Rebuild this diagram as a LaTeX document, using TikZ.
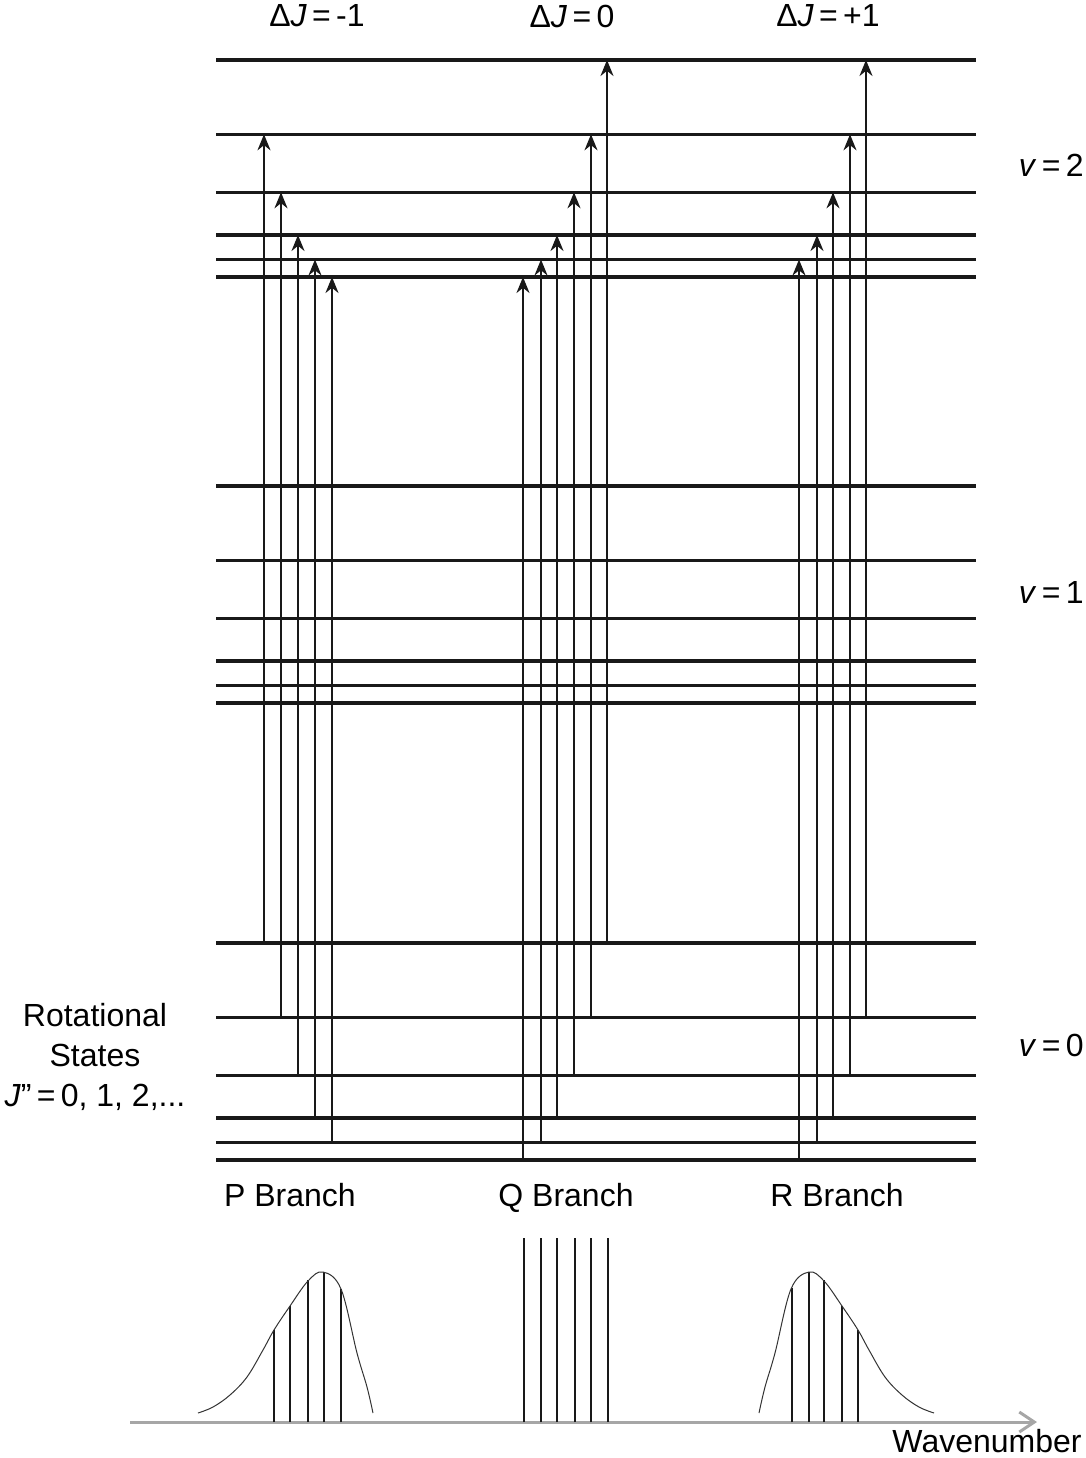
\documentclass[tikz,border=0pt]{standalone}
\usepackage{fontspec}
\setmainfont{Liberation Sans}
\usetikzlibrary{arrows.meta}

\begin{document}
\begin{tikzpicture}
[x=0.5pt,y=-0.5pt,
 level/.style={line width=1.6pt,black!90},
 trans/.style={line width=1.1pt,black!90,-{Stealth[length=8pt,width=6.5pt]}},
 txt/.style={font=\fontsize{16}{20}\selectfont,inner sep=0pt},
 spec/.style={line width=1pt,black!90},
 env/.style={line width=0.5pt,black!80},
 axis/.style={line width=1.5pt,gray!70,-{Straight Barb[length=7.5pt,width=10pt]}}]

\useasboundingbox (0,0) rectangle (1086,1458);

\foreach \base/\v in {1160/0,703/1,277/2}
  \foreach \d [count=\j from 0] in {0,17.5,42,84.7,142.7,217}
    \draw[level] (216,\base-\d) -- (976,\base-\d) coordinate (v\v j\j);

\foreach \x/\lo/\hi in {264/5/4,281/4/3,298/3/2,315/2/1,332/1/0,
                        523/0/0,541/1/1,557/2/2,574/3/3,591/4/4,607/5/5,
                        799/0/1,817/1/2,833/2/3,850/3/4,866/4/5}
  \draw[trans] (\x,0 |- v0j\lo) -- (\x,0 |- v2j\hi);

\node[txt] (dJm) at (317,16) {Δ\textit{J}\,=\,-1};
\node[txt] (dJz) at (572,16) {Δ\textit{J}\,=\,0};
\node[txt] (dJp) at (828,16) {Δ\textit{J}\,=\,+1};

\node[txt,anchor=east] (lv2) at (1084,165) {\textit{v}\,=\,2};
\node[txt,anchor=east] (lv1) at (1084,592) {\textit{v}\,=\,1};
\node[txt,anchor=east] (lv0) at (1084,1045) {\textit{v}\,=\,0};

\node[txt,align=center] (rot) at (95,1057) {Rotational\\States\\\textit{J}”\,=\,0, 1, 2,...};

\node[txt,anchor=base] (pb) at (290,1206) {P Branch};
\node[txt,anchor=base] (qb) at (566,1206) {Q Branch};
\node[txt,anchor=base] (rb) at (837,1206) {R Branch};

\draw[axis] (130,1422) coordinate (ax0) -- (1037,1422) coordinate (ax1);
\node[txt,anchor=base east] (wn) at (1082,1452) {Wavenumber};

\foreach \x/\t in {274/1330,290/1306,308/1280,324/1272,341/1289}
  \draw[spec] (\x,1422) -- (\x,\t);
\foreach \x in {524,541,557,575,591,608}
  \draw[spec] (\x,1422) -- (\x,1238);
\foreach \x/\t in {792/1288,809/1272,824/1280,842/1306,858/1330}
  \draw[spec] (\x,1422) -- (\x,\t);

\draw[env] plot[smooth,tension=0.6] coordinates {(198,1413) (213,1407) (230,1395)
  (247,1377) (263,1350) (274,1330) (290,1306) (308,1281) (323,1272) (341,1289)
  (357,1353) (367,1387) (373,1413)};
\draw[env] plot[smooth,tension=0.6] coordinates {(759,1413) (765,1387) (775,1353)
  (791,1289) (809,1272) (824,1281) (842,1306) (858,1330) (869,1350) (885,1377)
  (902,1395) (919,1407) (934,1413)};

\end{tikzpicture}
\end{document}
